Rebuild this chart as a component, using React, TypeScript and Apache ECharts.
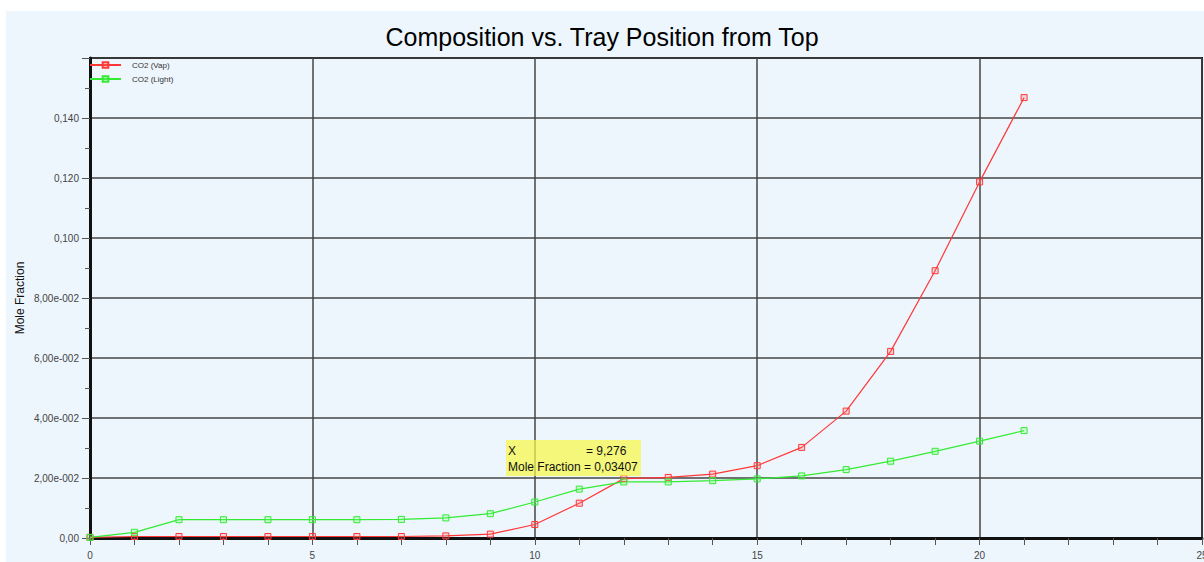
import React, { useEffect, useRef } from "react";
import * as echarts from "echarts";

const trays = [0, 1, 2, 3, 4, 5, 6, 7, 8, 9, 10, 11, 12, 13, 14, 15, 16, 17, 18, 19, 20, 21];
const co2Vap = [0.0002, 0.0005, 0.0005, 0.0005, 0.0005, 0.0005, 0.0005, 0.0005, 0.0007, 0.0013, 0.0045, 0.0116, 0.0198, 0.0202, 0.0213, 0.0241, 0.0302, 0.0423, 0.0622, 0.0891, 0.1187, 0.1468];
const co2Light = [0.0002, 0.0019, 0.0061, 0.0061, 0.0061, 0.0061, 0.0061, 0.0062, 0.0067, 0.0081, 0.012, 0.0163, 0.0187, 0.0187, 0.0191, 0.0197, 0.0207, 0.0228, 0.0256, 0.0289, 0.0323, 0.0358];
const seriesNames = ["CO2 (Vap)", "CO2 (Light)"];
const yTickLabels: Record<string, string> = {
  "0": "0,00",
  "0.02": "2,00e-002",
  "0.04": "4,00e-002",
  "0.06": "6,00e-002",
  "0.08": "8,00e-002",
  "0.1": "0,100",
  "0.12": "0,120",
  "0.14": "0,140",
};
const titleText = "Composition vs. Tray Position from Top";
const yName = "Mole Fraction";
const readoutX = "9,276";
const readoutY = "0,03407";

const FONT = "'Liberation Sans', Arial, sans-serif";

export default function App() {
  const ref = useRef<HTMLDivElement>(null);
  useEffect(() => {
    if (!ref.current) return;
    const chart = echarts.init(ref.current, undefined, { renderer: "svg" });
    const mk = (name: string, data: number[], color: string, fill: string) => ({
      name,
      type: "line",
      data: trays.map((t, i) => [t, data[i]]),
      symbol: "rect",
      symbolSize: 6,
      lineStyle: { color, width: 1.2 },
      itemStyle: { color: fill, borderColor: color, borderWidth: 1 },
      z: 5,
    });
    chart.setOption({
      animation: false,
      backgroundColor: "#ffffff",
      textStyle: { fontFamily: FONT },
      title: {
        text: titleText,
        left: "center",
        top: 19,
        textStyle: { fontSize: 25, fontWeight: "normal", color: "#000", fontFamily: FONT },
      },
      legend: {
        orient: "vertical",
        left: 89,
        top: 61,
        itemWidth: 31,
        itemHeight: 7,
        itemGap: 6,
        padding: 0,
        textStyle: { fontSize: 8, color: "#333", padding: [0, 0, 0, 6], fontFamily: FONT },
        data: seriesNames,
      },
      grid: {
        left: 90,
        right: 2,
        top: 58,
        bottom: 24,
        containLabel: false,
        outerBoundsMode: "none",
        show: true,
        backgroundColor: "rgb(238,246,253)",
        borderColor: "#111",
        borderWidth: 2,
      },
      xAxis: {
        type: "value",
        min: 0,
        max: 25,
        interval: 5,
        axisLine: { show: true, onZero: false, lineStyle: { color: "#111", width: 3 } },
        axisTick: { show: true, length: 7, lineStyle: { color: "#555", width: 1 } },
        minorTick: { show: true, splitNumber: 5, length: 7, lineStyle: { color: "#555", width: 1 } },
        splitLine: { show: true, lineStyle: { color: "#444", width: 1.5 } },
        axisLabel: { fontSize: 10, color: "#444", margin: 12, fontFamily: FONT, showMaxLabel: true },
      },
      yAxis: {
        type: "value",
        min: 0,
        max: 0.16,
        interval: 0.02,
        axisLine: { show: true, lineStyle: { color: "#111", width: 3 } },
        axisTick: { show: true, length: 8, lineStyle: { color: "#555", width: 1 } },
        minorTick: { show: true, splitNumber: 2, length: 5, lineStyle: { color: "#555", width: 1 } },
        splitLine: { show: true, lineStyle: { color: "#444", width: 1.5 } },
        axisLabel: {
          fontSize: 10,
          color: "#444",
          margin: 11,
          fontFamily: FONT,
          showMaxLabel: false,
          formatter: (v: number) => yTickLabels[String(Math.round(v * 100) / 100)] ?? "",
        },
      },
      graphic: [
        {
          type: "rect",
          z: -10,
          silent: true,
          shape: { x: 6, y: 11, width: 1198, height: 551 },
          style: { fill: "rgb(238,246,253)" },
        },
        {
          type: "text",
          x: 20,
          y: 298,
          rotation: Math.PI / 2,
          style: { text: yName, fill: "#111", font: `12px ${FONT}`, align: "center", verticalAlign: "middle" },
        },
        {
          type: "rect",
          z: 10,
          shape: { x: 506, y: 440, width: 135, height: 36 },
          style: { fill: "rgba(246,246,70,0.72)" },
        },
        {
          type: "text",
          z: 11,
          x: 508,
          y: 451,
          style: { text: "X", font: `12px ${FONT}`, fill: "#111", verticalAlign: "middle" },
        },
        {
          type: "text",
          z: 11,
          x: 586,
          y: 451,
          style: { text: "= " + readoutX, font: `12px ${FONT}`, fill: "#111", verticalAlign: "middle" },
        },
        {
          type: "text",
          z: 11,
          x: 508,
          y: 467,
          style: { text: yName + " = " + readoutY, font: `12px ${FONT}`, fill: "#111", verticalAlign: "middle" },
        },
      ],
      series: [
        mk(seriesNames[0], co2Vap, "rgb(255,55,55)", "rgba(255,120,120,0.25)"),
        mk(seriesNames[1], co2Light, "rgb(50,235,50)", "rgba(120,255,120,0.25)"),
      ],
    });
    return () => chart.dispose();
  }, []);
  return <div ref={ref} style={{ position: "absolute", left: 0, top: 0, width: 1204, height: 562 }} />;
}
